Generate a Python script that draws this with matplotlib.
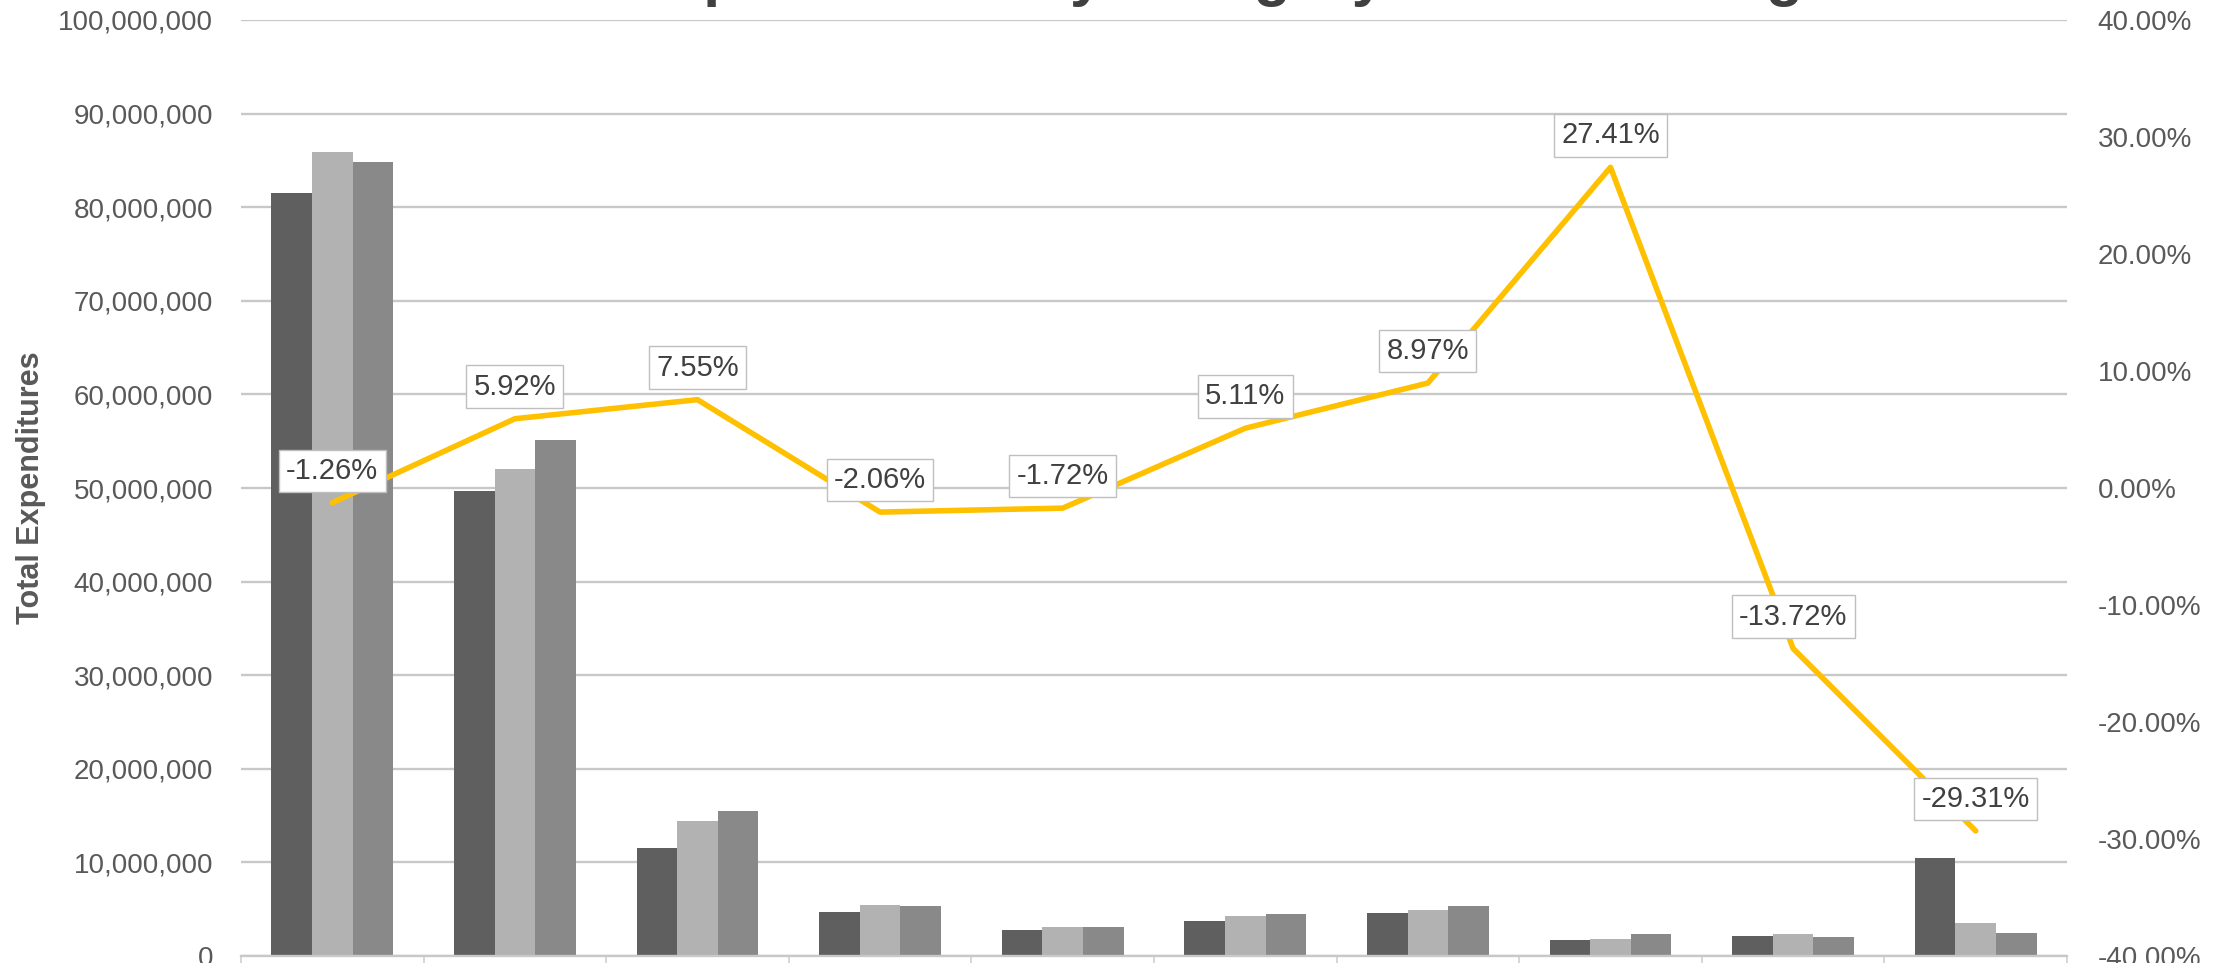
import numpy as np
import matplotlib.pyplot as plt
from matplotlib.ticker import FuncFormatter, MultipleLocator

plt.rcParams['font.family'] = ['Liberation Sans', 'DejaVu Sans']

# spending per category, three years (in millions)
categories = ['Cat 1', 'Cat 2', 'Cat 3', 'Cat 4', 'Cat 5',
              'Cat 6', 'Cat 7', 'Cat 8', 'Cat 9', 'Cat 10']
year1 = [81.5, 49.7, 11.5, 4.67, 2.74, 3.77, 4.56, 1.67, 2.17, 10.47]
year2 = [85.9, 52.0, 14.4, 5.50, 3.12, 4.30, 4.95, 1.84, 2.30, 3.50]
year3 = [84.8, 55.1, 15.45, 5.39, 3.07, 4.52, 5.39, 2.34, 1.98, 2.47]
pct_change = [-1.26, 5.92, 7.55, -2.06, -1.72, 5.11, 8.97, 27.41, -13.72, -29.31]

title = 'Total Expenditures by Category with % Change'

bar_colors = ['#5f5f5f', '#b2b2b2', '#898989']
grid_color = '#c8c8c8'
text_color = '#595959'

W, H = 2223, 963
fig = plt.figure(figsize=(W / 100, H / 100), dpi=100)
ax = fig.add_axes([241 / W, 7 / H, (2067 - 241) / W, (956 - 20) / H])

x = np.arange(len(categories))
bw = 1 / 4.5
for i, vals in enumerate([year1, year2, year3]):
    ax.bar(x + (i - 1) * bw, np.array(vals) * 1e6, width=bw,
           color=bar_colors[i], zorder=2)

ax.set_xlim(-0.5, len(categories) - 0.5)
ax.set_ylim(0, 100e6)
ax.yaxis.set_major_locator(MultipleLocator(10e6))
ax.yaxis.set_major_formatter(FuncFormatter(lambda v, p: f'{v:,.0f}'))
ax.grid(axis='y', color=grid_color, linewidth=1.7, zorder=0)
ax.set_axisbelow(True)
for s in ['top', 'left', 'right']:
    ax.spines[s].set_visible(False)
ax.spines['bottom'].set_color('#c8c8c8')
ax.spines['bottom'].set_linewidth(1.7)
ax.set_xticks(np.arange(len(categories) + 1) - 0.5)
ax.set_xticklabels([])
ax.tick_params(axis='x', length=12, color='#d0d0d0', width=1.2)
ax.tick_params(axis='y', length=0, pad=20, labelsize=20, labelcolor=text_color)
ax.set_ylabel('Total Expenditures', fontsize=22, fontweight='bold',
              color=text_color, labelpad=9)

ax2 = ax.twinx()
ax2.set_ylim(-40, 40)
ax2.yaxis.set_major_locator(MultipleLocator(10))
ax2.yaxis.set_major_formatter(FuncFormatter(lambda v, p: f'{v:.2f}%'))
ax2.tick_params(axis='y', length=0, pad=22, labelsize=20, labelcolor=text_color)
for s in ax2.spines.values():
    s.set_visible(False)

ax2.plot(x, pct_change, color='#ffc000', linewidth=4, zorder=3,
         solid_capstyle='round', solid_joinstyle='round')
for xi, v in zip(x, pct_change):
    ax2.annotate(f'{v:.2f}%', (xi, v), xytext=(0, 23), textcoords='offset points',
                 ha='center', va='center', fontsize=21, color='#404040', zorder=4,
                 bbox=dict(boxstyle='square,pad=0.25', fc='white', ec='#bfbfbf', lw=1))

fig.text((241 + 2067) / 2 / W, 1 + 6 / H, title, ha='center', va='baseline',
         fontsize=44, fontweight='bold', color='#404040')

fig.savefig('out.png', dpi=100)
